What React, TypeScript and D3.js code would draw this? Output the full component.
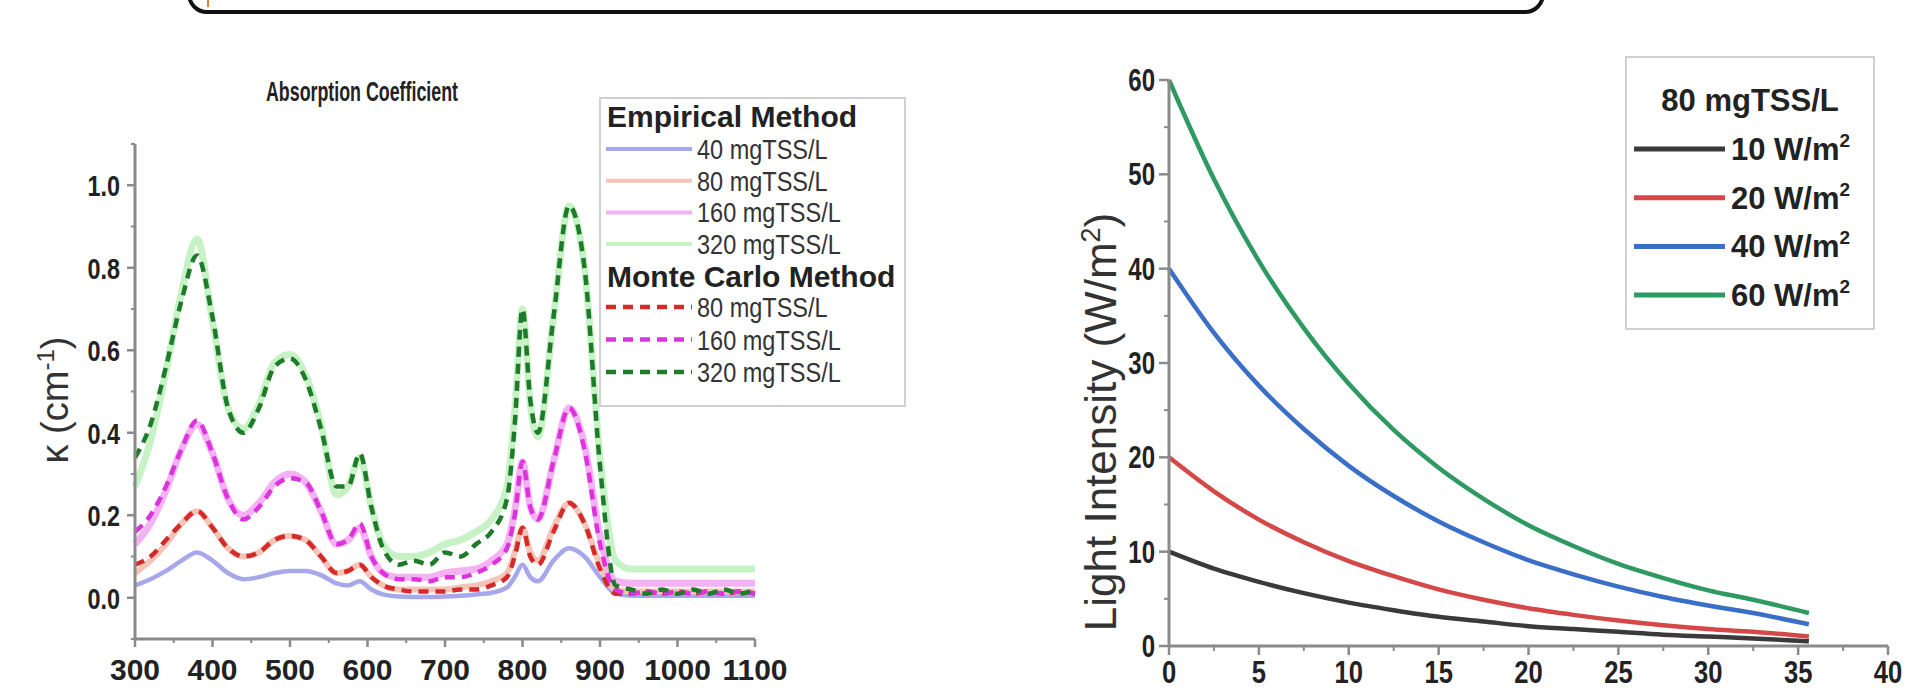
import React from "react";
import * as d3 from "d3";

// ---------- Left chart data (Absorption Coefficient) ----------
const wavelengths = [300, 320, 340, 360, 380, 400, 420, 440, 460, 480, 500, 520, 540, 560, 575, 590, 605, 620, 640, 660, 680, 700, 720, 740, 760, 780, 790, 800, 810, 820, 840, 860, 880, 900, 920, 940, 960, 980, 1000, 1020, 1040, 1060, 1080, 1100];

const empirical40 = [0.03, 0.045, 0.065, 0.09, 0.11, 0.09, 0.06, 0.045, 0.05, 0.06, 0.065, 0.065, 0.055, 0.035, 0.03, 0.04, 0.02, 0.008, 0.003, 0.002, 0.002, 0.003, 0.005, 0.008, 0.012, 0.025, 0.05, 0.08, 0.05, 0.04, 0.09, 0.12, 0.10, 0.05, 0.01, 0.005, 0.005, 0.005, 0.005, 0.005, 0.005, 0.005, 0.005, 0.005];
const empirical80 = [0.06, 0.09, 0.13, 0.18, 0.21, 0.17, 0.12, 0.10, 0.11, 0.14, 0.15, 0.14, 0.10, 0.06, 0.065, 0.08, 0.05, 0.03, 0.02, 0.02, 0.02, 0.02, 0.025, 0.03, 0.04, 0.06, 0.11, 0.17, 0.11, 0.09, 0.17, 0.23, 0.18, 0.08, 0.02, 0.015, 0.015, 0.015, 0.015, 0.015, 0.015, 0.015, 0.015, 0.015];
const empirical160 = [0.13, 0.18, 0.26, 0.36, 0.42, 0.35, 0.24, 0.20, 0.23, 0.28, 0.30, 0.28, 0.21, 0.13, 0.14, 0.17, 0.10, 0.06, 0.05, 0.05, 0.05, 0.06, 0.065, 0.07, 0.09, 0.13, 0.21, 0.33, 0.22, 0.19, 0.33, 0.46, 0.37, 0.15, 0.04, 0.035, 0.035, 0.035, 0.035, 0.035, 0.035, 0.035, 0.035, 0.035];
const empirical320 = [0.27, 0.38, 0.55, 0.74, 0.87, 0.67, 0.46, 0.41, 0.47, 0.57, 0.59, 0.54, 0.42, 0.25, 0.27, 0.34, 0.22, 0.13, 0.10, 0.10, 0.11, 0.13, 0.14, 0.16, 0.19, 0.27, 0.45, 0.70, 0.47, 0.39, 0.68, 0.95, 0.80, 0.34, 0.09, 0.07, 0.07, 0.07, 0.07, 0.07, 0.07, 0.07, 0.07, 0.07];
const monteCarlo80 = [0.08, 0.10, 0.14, 0.18, 0.21, 0.17, 0.12, 0.10, 0.11, 0.14, 0.15, 0.14, 0.10, 0.06, 0.065, 0.08, 0.05, 0.03, 0.02, 0.015, 0.015, 0.015, 0.02, 0.02, 0.03, 0.05, 0.10, 0.17, 0.10, 0.08, 0.16, 0.23, 0.18, 0.07, 0.01, 0.01, 0.015, 0.01, 0.015, 0.01, 0.015, 0.01, 0.015, 0.01];
const monteCarlo160 = [0.16, 0.20, 0.27, 0.36, 0.43, 0.35, 0.24, 0.19, 0.22, 0.27, 0.29, 0.28, 0.21, 0.13, 0.14, 0.18, 0.10, 0.06, 0.045, 0.045, 0.04, 0.05, 0.05, 0.06, 0.08, 0.12, 0.20, 0.33, 0.22, 0.19, 0.33, 0.46, 0.36, 0.13, 0.02, 0.01, 0.015, 0.01, 0.015, 0.01, 0.015, 0.01, 0.015, 0.01];
const monteCarlo320 = [0.34, 0.42, 0.56, 0.72, 0.83, 0.68, 0.46, 0.40, 0.46, 0.56, 0.58, 0.53, 0.41, 0.27, 0.27, 0.35, 0.22, 0.12, 0.08, 0.09, 0.08, 0.11, 0.10, 0.13, 0.16, 0.24, 0.42, 0.70, 0.48, 0.40, 0.68, 0.95, 0.80, 0.32, 0.03, 0.02, 0.01, 0.02, 0.01, 0.02, 0.01, 0.02, 0.01, 0.02];

const leftXTicks = [300, 400, 500, 600, 700, 800, 900, 1000, 1100];
const leftYTicks = [0.0, 0.2, 0.4, 0.6, 0.8, 1.0];
const leftEmpiricalLabels = ["40 mgTSS/L", "80 mgTSS/L", "160 mgTSS/L", "320 mgTSS/L"];
const leftMonteCarloLabels = ["80 mgTSS/L", "160 mgTSS/L", "320 mgTSS/L"];

// ---------- Right chart data (Light Intensity) ----------
const depth = [0, 2.5, 5, 7.5, 10, 12.5, 15, 17.5, 20, 22.5, 25, 27.5, 30, 32.5, 35.6];
const light10 = [10, 8.2, 6.8, 5.6, 4.6, 3.8, 3.1, 2.6, 2.1, 1.8, 1.5, 1.2, 1.0, 0.8, 0.5];
const light20 = [20, 16.4, 13.4, 11.0, 9.0, 7.4, 6.0, 4.9, 4.0, 3.3, 2.7, 2.2, 1.8, 1.5, 1.0];
const light40 = [40, 33.2, 27.6, 23.0, 19.1, 15.9, 13.2, 11.0, 9.1, 7.6, 6.3, 5.2, 4.3, 3.5, 2.3];
const light60 = [60, 49.5, 40.8, 33.7, 27.8, 22.9, 18.9, 15.6, 12.8, 10.6, 8.7, 7.2, 5.9, 4.9, 3.5];

const rightXTicks = [0, 5, 10, 15, 20, 25, 30, 35, 40];
const rightYTicks = [0, 10, 20, 30, 40, 50, 60];
const rightLegendLabels = ["10", "20", "40", "60"];

const FONT = "'Liberation Sans', Arial, Helvetica, sans-serif";
const AXIS = "#8a8a8a";

export default function App() {
  const xL = d3.scaleLinear().domain([300, 1100]).range([135, 755]);
  const yL = d3.scaleLinear().domain([-0.1, 1.1]).range([639, 144]);
  const xR = d3.scaleLinear().domain([0, 40]).range([1169, 1888]);
  const yR = d3.scaleLinear().domain([0, 60]).range([646, 80]);

  const lineL = (vals: number[]) =>
    d3.line<number>().x((_, i) => xL(wavelengths[i])).y((d) => yL(d)).curve(d3.curveMonotoneX)(vals) || "";
  const lineR = (vals: number[]) =>
    d3.line<number>().x((_, i) => xR(depth[i])).y((d) => yR(d)).curve(d3.curveMonotoneX)(vals) || "";

  const empirical = [
    { v: empirical40, c: "#a7a7ec", w: 4.5 },
    { v: empirical80, c: "#f5c3b8", w: 6 },
    { v: empirical160, c: "#f4b2f4", w: 7 },
    { v: empirical320, c: "#c6f2c6", w: 7 },
  ];
  const monte = [
    { v: monteCarlo80, c: "#d42a2a" },
    { v: monteCarlo160, c: "#dd33dd" },
    { v: monteCarlo320, c: "#1e7b2a" },
  ];
  const rightSeries = [
    { v: light10, c: "#3a3a3a" },
    { v: light20, c: "#d44848" },
    { v: light40, c: "#3a6fc8" },
    { v: light60, c: "#2e9a62" },
  ];

  const leftMinorY = d3.range(-0.1, 1.15, 0.2);
  const leftMinorX = d3.range(350, 1100, 100);
  const rightMinorY = d3.range(5, 60, 10);
  const rightMinorX = d3.range(2.5, 40, 5);

  const x0R = xR(0);
  const y0R = yR(0);

  return (
    <svg width={1912} height={697} style={{ position: "absolute", left: 0, top: 0, background: "#fff" }} fontFamily={FONT}>
      <rect x={0} y={0} width={1912} height={697} fill="#fff" />
      {/* top rounded box */}
      <rect x={189} y={-40} width={1354} height={52} rx={18} fill="none" stroke="#111" strokeWidth={4} />
      <line x1={208} y1={0} x2={208} y2={7} stroke="#e0842a" strokeWidth={2} />

      {/* ===== Left chart ===== */}
      <text x={266} y={101} fontSize={27} fontWeight="bold" fill="#222" textLength={192} lengthAdjust="spacingAndGlyphs">Absorption Coefficient</text>

      {empirical.map((s, i) => (
        <path key={"e" + i} d={lineL(s.v)} fill="none" stroke={s.c} strokeWidth={s.w} strokeLinejoin="round" />
      ))}
      {monte.map((s, i) => (
        <path key={"m" + i} d={lineL(s.v)} fill="none" stroke={s.c} strokeWidth={4.5} strokeDasharray="10,7" />
      ))}

      {/* axes */}
      <line x1={135} y1={yL(1.1)} x2={135} y2={yL(-0.1)} stroke={AXIS} strokeWidth={3} />
      <line x1={135} y1={yL(-0.1)} x2={755} y2={yL(-0.1)} stroke={AXIS} strokeWidth={3} />
      {leftYTicks.map((t) => (
        <g key={"ly" + t}>
          <line x1={127} x2={135} y1={yL(t)} y2={yL(t)} stroke={AXIS} strokeWidth={2.5} />
          <text transform={`translate(120,${yL(t) + 11}) scale(0.78,1)`} fontSize={30} fontWeight="bold" textAnchor="end" fill="#222">{t.toFixed(1)}</text>
        </g>
      ))}
      {leftMinorY.map((t) => (
        <line key={"lmy" + t} x1={131} x2={135} y1={yL(t)} y2={yL(t)} stroke={AXIS} strokeWidth={2} />
      ))}
      {leftXTicks.map((t) => (
        <g key={"lx" + t}>
          <line x1={xL(t)} x2={xL(t)} y1={yL(-0.1)} y2={yL(-0.1) + 8} stroke={AXIS} strokeWidth={2.5} />
          <text x={xL(t)} y={680} fontSize={30} fontWeight="bold" textAnchor="middle" fill="#222">{t}</text>
        </g>
      ))}
      {leftMinorX.map((t) => (
        <line key={"lmx" + t} x1={xL(t)} x2={xL(t)} y1={yL(-0.1)} y2={yL(-0.1) + 4} stroke={AXIS} strokeWidth={2} />
      ))}
      <text transform="translate(68,400) rotate(-90)" fontSize={38} textAnchor="middle" fill="#333">
        κ (cm<tspan fontSize={24} dy={-14}>-1</tspan><tspan dy={14}>)</tspan>
      </text>

      {/* left legend */}
      <rect x={600} y={98} width={305} height={308} fill="#fff" fillOpacity={0.85} stroke="#d0d0d0" strokeWidth={2} />
      <text x={607} y={127} fontSize={30} fontWeight="bold" fill="#222">Empirical Method</text>
      {leftEmpiricalLabels.map((lab, i) => {
        const y = 149 + i * 31.7;
        return (
          <g key={"le" + i}>
            <line x1={606} x2={692} y1={y} y2={y} stroke={empirical[i].c} strokeWidth={4} />
            <text transform={`translate(697,${y + 10}) scale(0.84,1)`} fontSize={28} fill="#333">{lab}</text>
          </g>
        );
      })}
      <text x={607} y={287} fontSize={30} fontWeight="bold" fill="#222">Monte Carlo Method</text>
      {leftMonteCarloLabels.map((lab, i) => {
        const y = 307 + i * 32.5;
        return (
          <g key={"lm" + i}>
            <line x1={606} x2={692} y1={y} y2={y} stroke={monte[i].c} strokeWidth={4.5} strokeDasharray="10,7" />
            <text transform={`translate(697,${y + 10}) scale(0.84,1)`} fontSize={28} fill="#333">{lab}</text>
          </g>
        );
      })}

      {/* ===== Right chart ===== */}
      {rightSeries.map((s, i) => (
        <path key={"r" + i} d={lineR(s.v)} fill="none" stroke={s.c} strokeWidth={4.5} />
      ))}
      <line x1={x0R} y1={yR(60)} x2={x0R} y2={y0R} stroke={AXIS} strokeWidth={3} />
      <line x1={x0R} y1={y0R} x2={xR(40)} y2={y0R} stroke={AXIS} strokeWidth={3} />
      {rightYTicks.map((t) => (
        <g key={"ry" + t}>
          <line x1={x0R - 10} x2={x0R} y1={yR(t)} y2={yR(t)} stroke={AXIS} strokeWidth={2.5} />
          <text transform={`translate(${x0R - 14},${yR(t) + 11}) scale(0.75,1)`} fontSize={32} fontWeight="bold" textAnchor="end" fill="#222">{t}</text>
        </g>
      ))}
      {rightMinorY.map((t) => (
        <line key={"rmy" + t} x1={x0R - 5} x2={x0R} y1={yR(t)} y2={yR(t)} stroke={AXIS} strokeWidth={2} />
      ))}
      {rightXTicks.map((t) => (
        <g key={"rx" + t}>
          <line x1={xR(t)} x2={xR(t)} y1={y0R} y2={y0R + 9} stroke={AXIS} strokeWidth={2.5} />
          <text transform={`translate(${xR(t)},683) scale(0.8,1)`} fontSize={32} fontWeight="bold" textAnchor="middle" fill="#222">{t}</text>
        </g>
      ))}
      {rightMinorX.map((t) => (
        <line key={"rmx" + t} x1={xR(t)} x2={xR(t)} y1={y0R} y2={y0R + 5} stroke={AXIS} strokeWidth={2} />
      ))}
      <text transform="translate(1116,422) rotate(-90)" fontSize={44} textAnchor="middle" fill="#333">
        Light Intensity (W/m<tspan fontSize={27} dy={-16}>2</tspan><tspan dy={16}>)</tspan>
      </text>

      {/* right legend */}
      <rect x={1626} y={57} width={248} height={272} fill="#fff" stroke="#d0d0d0" strokeWidth={2} />
      <text x={1750} y={111} fontSize={31} fontWeight="bold" textAnchor="middle" fill="#222">80 mgTSS/L</text>
      {rightLegendLabels.map((lab, i) => {
        const y = 149 + i * 48.7;
        return (
          <g key={"rl" + i}>
            <line x1={1634} x2={1725} y1={y} y2={y} stroke={rightSeries[i].c} strokeWidth={5} />
            <text x={1731} y={y + 11} fontSize={31} fontWeight="bold" fill="#222">
              {lab} W/m<tspan fontSize={19} dy={-13}>2</tspan>
            </text>
          </g>
        );
      })}
    </svg>
  );
}
